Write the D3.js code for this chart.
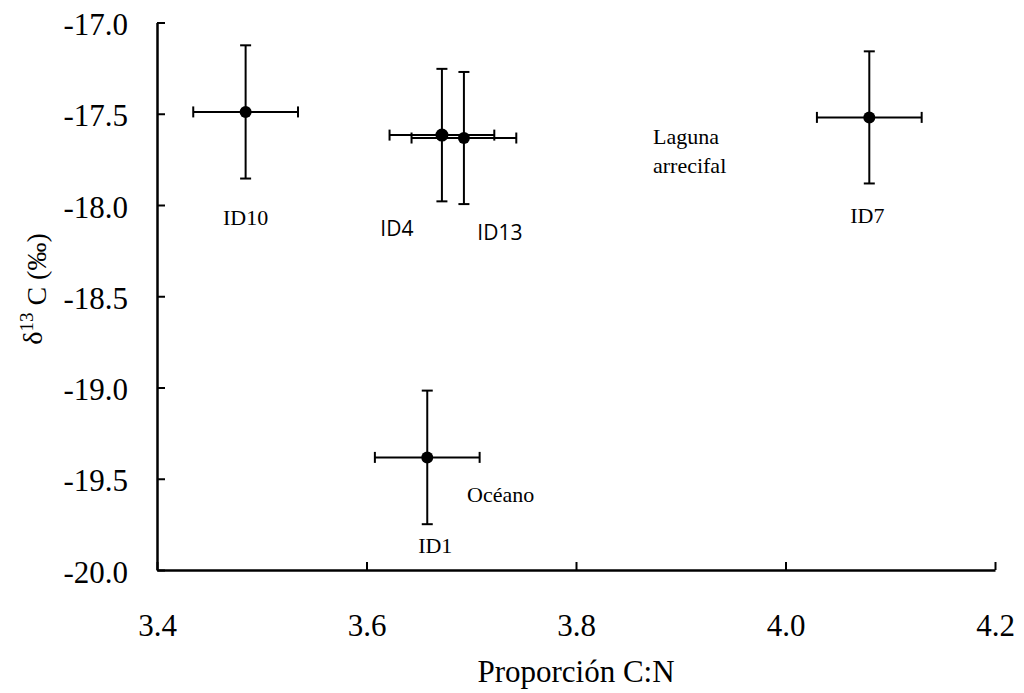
<!DOCTYPE html>
<html>
<head>
<meta charset="utf-8">
<script src="https://cdn.jsdelivr.net/npm/d3@7/dist/d3.min.js"></script>
<style>
  html, body { margin: 0; padding: 0; background: #fff; }
  svg { display: block; }
</style>
</head>
<body>
<svg id="chart" width="1024" height="693"></svg>
<script>
// ---- data ----
const ids      = ["ID10", "ID4", "ID13", "ID7", "ID1"];
const cnRatio  = [3.4846, 3.672, 3.693, 4.080, 3.658];   // x (Proporción C:N)
const cnErr    = [0.050, 0.050, 0.050, 0.050, 0.050];
const d13C     = [-17.49, -17.617, -17.633, -17.52, -19.383]; // y (δ13C ‰)
const d13CErr  = [0.365, 0.363, 0.362, 0.362, 0.366];

const xTicks      = [3.4, 3.6, 3.8, 4.0, 4.2];
const xTickLabels = ["3.4", "3.6", "3.8", "4.0", "4.2"];
const yTicks      = [-20.0, -19.5, -19.0, -18.5, -18.0, -17.5, -17.0];
const yTickLabels = ["-20.0", "-19.5", "-19.0", "-18.5", "-18.0", "-17.5", "-17.0"];

const regionText = [["Laguna", "arrecifal"], ["Océano"]];
const regionX    = [3.8735, 3.696];
const regionY    = [-17.666, -19.626];

// ---- drawing ----
const serif = "'Liberation Serif', 'Times New Roman', serif";
const sans  = "'Open Sans', 'Noto Sans', sans-serif";
const svg = d3.select("#chart");

const x = d3.scaleLinear().domain([3.4, 4.2]).range([157, 995]);
const y = d3.scaleLinear().domain([-20, -17]).range([570, 22.5]);

// y axis
const yAxis = svg.append("g").attr("transform", `translate(${x(3.4)},0)`)
  .call(d3.axisLeft(y).tickValues(yTicks).tickSize(-8).tickSizeOuter(0).tickPadding(29)
        .tickFormat((d, i) => yTickLabels[i]));
// x axis
const xAxis = svg.append("g").attr("transform", `translate(0,${y(-20)})`)
  .call(d3.axisBottom(x).tickValues(xTicks).tickSize(-8).tickSizeOuter(0).tickPadding(44)
        .tickFormat((d, i) => xTickLabels[i]));

[yAxis, xAxis].forEach(g => {
  g.select(".domain").attr("stroke", "#000").attr("stroke-width", 2.5);
  g.selectAll(".tick line").attr("stroke", "#000").attr("stroke-width", 2);
  g.selectAll(".tick text").attr("fill", "#000").style("font-family", serif).style("font-size", "31px");
});
yAxis.selectAll(".tick text").attr("dy", "0.39em");
xAxis.selectAll(".tick text").attr("dy", "0.71em");

// axis titles
svg.append("text")
  .attr("x", 576).attr("y", 682).attr("text-anchor", "middle")
  .style("font-family", serif).style("font-size", "31px").attr("fill", "#000")
  .text("Proporción C:N");

const yt = svg.append("text")
  .attr("transform", "translate(42,289) rotate(-90)")
  .attr("text-anchor", "middle")
  .style("font-family", serif).style("font-size", "28px").attr("fill", "#000");
yt.append("tspan").text("δ");
yt.append("tspan").attr("dy", "-0.45em").style("font-size", "19px").text("13");
yt.append("tspan").attr("dy", "0.45em").text(" C (‰)");

// error bars + points
const data = ids.map((id, i) => ({ id, x: cnRatio[i], xe: cnErr[i], y: d13C[i], ye: d13CErr[i] }));
const cap = 5.5;
const g = svg.append("g").attr("stroke", "#000").attr("stroke-width", 2);
data.forEach(d => {
  const px = x(d.x), py = y(d.y);
  const x0 = x(d.x - d.xe), x1 = x(d.x + d.xe);
  const y0 = y(d.y + d.ye), y1 = y(d.y - d.ye);
  g.append("line").attr("x1", x0).attr("x2", x1).attr("y1", py).attr("y2", py);
  g.append("line").attr("x1", x0).attr("x2", x0).attr("y1", py - cap).attr("y2", py + cap);
  g.append("line").attr("x1", x1).attr("x2", x1).attr("y1", py - cap).attr("y2", py + cap);
  g.append("line").attr("x1", px).attr("x2", px).attr("y1", y0).attr("y2", y1);
  g.append("line").attr("x1", px - cap).attr("x2", px + cap).attr("y1", y0).attr("y2", y0);
  g.append("line").attr("x1", px - cap).attr("x2", px + cap).attr("y1", y1).attr("y2", y1);
});
svg.append("g").selectAll("circle").data(data).join("circle")
  .attr("cx", d => x(d.x)).attr("cy", d => y(d.y)).attr("r", d => d.id === "ID4" ? 6.5 : 6)
  .attr("fill", "#000");

// point labels (offsets in px from the point)
const labelStyle = {
  ID10: { dx: 0,   dy: 113, font: serif, size: 22 },
  ID4:  { dx: -45, dy: 101, font: sans,  size: 21 },
  ID13: { dx: 36,  dy: 102, font: sans,  size: 21 },
  ID7:  { dx: -2,  dy: 106, font: serif, size: 22 },
  ID1:  { dx: 8,   dy: 96,  font: serif, size: 22 }
};
svg.append("g").selectAll("text").data(data).join("text")
  .attr("x", d => x(d.x) + labelStyle[d.id].dx)
  .attr("y", d => y(d.y) + labelStyle[d.id].dy)
  .attr("text-anchor", "middle")
  .style("font-family", d => labelStyle[d.id].font)
  .style("font-size", d => labelStyle[d.id].size + "px")
  .attr("fill", "#000")
  .text(d => d.id);

// region annotations
regionText.forEach((lines, i) => {
  const t = svg.append("text")
    .attr("x", x(regionX[i])).attr("y", y(regionY[i]))
    .style("font-family", serif).style("font-size", "22px").attr("fill", "#000");
  lines.forEach((ln, j) => {
    t.append("tspan").attr("x", x(regionX[i])).attr("dy", j === 0 ? 0 : 29).text(ln);
  });
});
</script>
</body>
</html>
